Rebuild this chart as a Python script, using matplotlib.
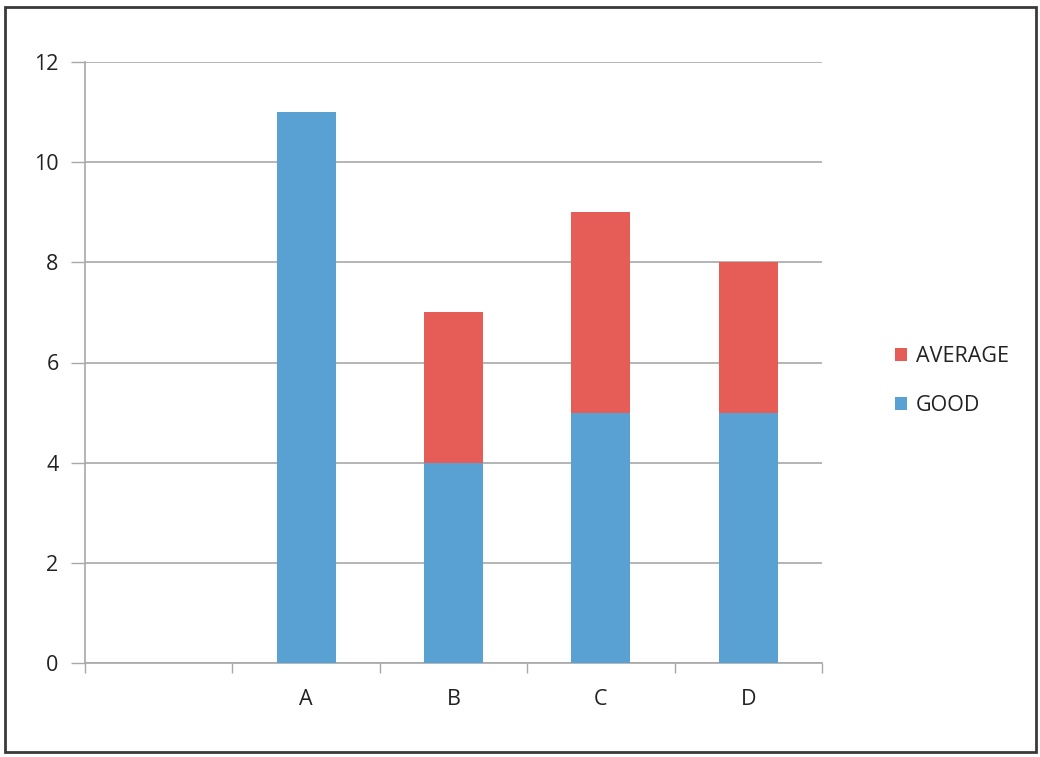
import matplotlib
matplotlib.use("Agg")
import matplotlib.pyplot as plt
from matplotlib.patches import Rectangle

plt.rcParams['font.family'] = ['Open Sans', 'DejaVu Sans']

categories = ["", "A", "B", "C", "D"]
good = [0, 11, 4, 5, 5]
average = [0, 0, 3, 4, 3]
yticks = [0, 2, 4, 6, 8, 10, 12]

blue = "#59a0d3"
red = "#e65d57"
grid_c = "#a8a8a8"
text_c = "#222222"
fs = 15.5

fig = plt.figure(figsize=(10.40, 7.57), dpi=100)
W, H = 1040, 757
# axes: x from 85 to 822 px, y0 at 663 px, y12 at 62 px
ax = fig.add_axes([85 / W, 1 - 663 / H, (822 - 85) / W, (663 - 62) / H])

x = list(range(len(categories)))
ax.bar(x, good, width=0.4, color=blue, label="GOOD", zorder=3)
ax.bar(x, average, width=0.4, bottom=good, color=red, label="AVERAGE", zorder=3)

ax.set_xlim(-0.5, len(categories) - 0.5)
ax.set_ylim(0, 12)
ax.set_yticks(yticks)
ax.set_yticklabels([str(v) for v in yticks], fontsize=fs, color=text_c)
ax.tick_params(axis='y', length=10, width=1, color=grid_c, pad=9)
ax.yaxis.grid(True, color=grid_c, linewidth=1.2, zorder=0)

# category labels centred, tick marks on slot boundaries
ax.set_xticks(x)
ax.set_xticklabels(categories, fontsize=fs, color=text_c)
ax.tick_params(axis='x', length=0, pad=19)
ax.set_xticks([i - 0.5 for i in range(len(categories) + 1)], minor=True)
ax.tick_params(axis='x', which='minor', length=7, width=1, color=grid_c, direction='out')

for s in ["top", "right"]:
    ax.spines[s].set_visible(False)
for s in ["left", "bottom"]:
    ax.spines[s].set_color(grid_c)
    ax.spines[s].set_linewidth(1.2)

handles, labels = ax.get_legend_handles_labels()
leg = fig.legend(handles[::-1], labels[::-1], loc="center left",
                 bbox_to_anchor=(876 / W, 1 - 381 / H), frameon=False,
                 prop={'size': fs}, handlelength=0.55, handleheight=0.55,
                 handletextpad=0.4, labelspacing=1.3)
for t in leg.get_texts():
    t.set_color(text_c)

# outer frame
fig.patches.append(Rectangle((5 / W, 1 - 752 / H), (1036 - 5) / W, (752 - 7) / H,
                             transform=fig.transFigure, fill=False,
                             edgecolor="#3a3a3a", linewidth=2))

fig.savefig("out.png", dpi=100, facecolor="white")
